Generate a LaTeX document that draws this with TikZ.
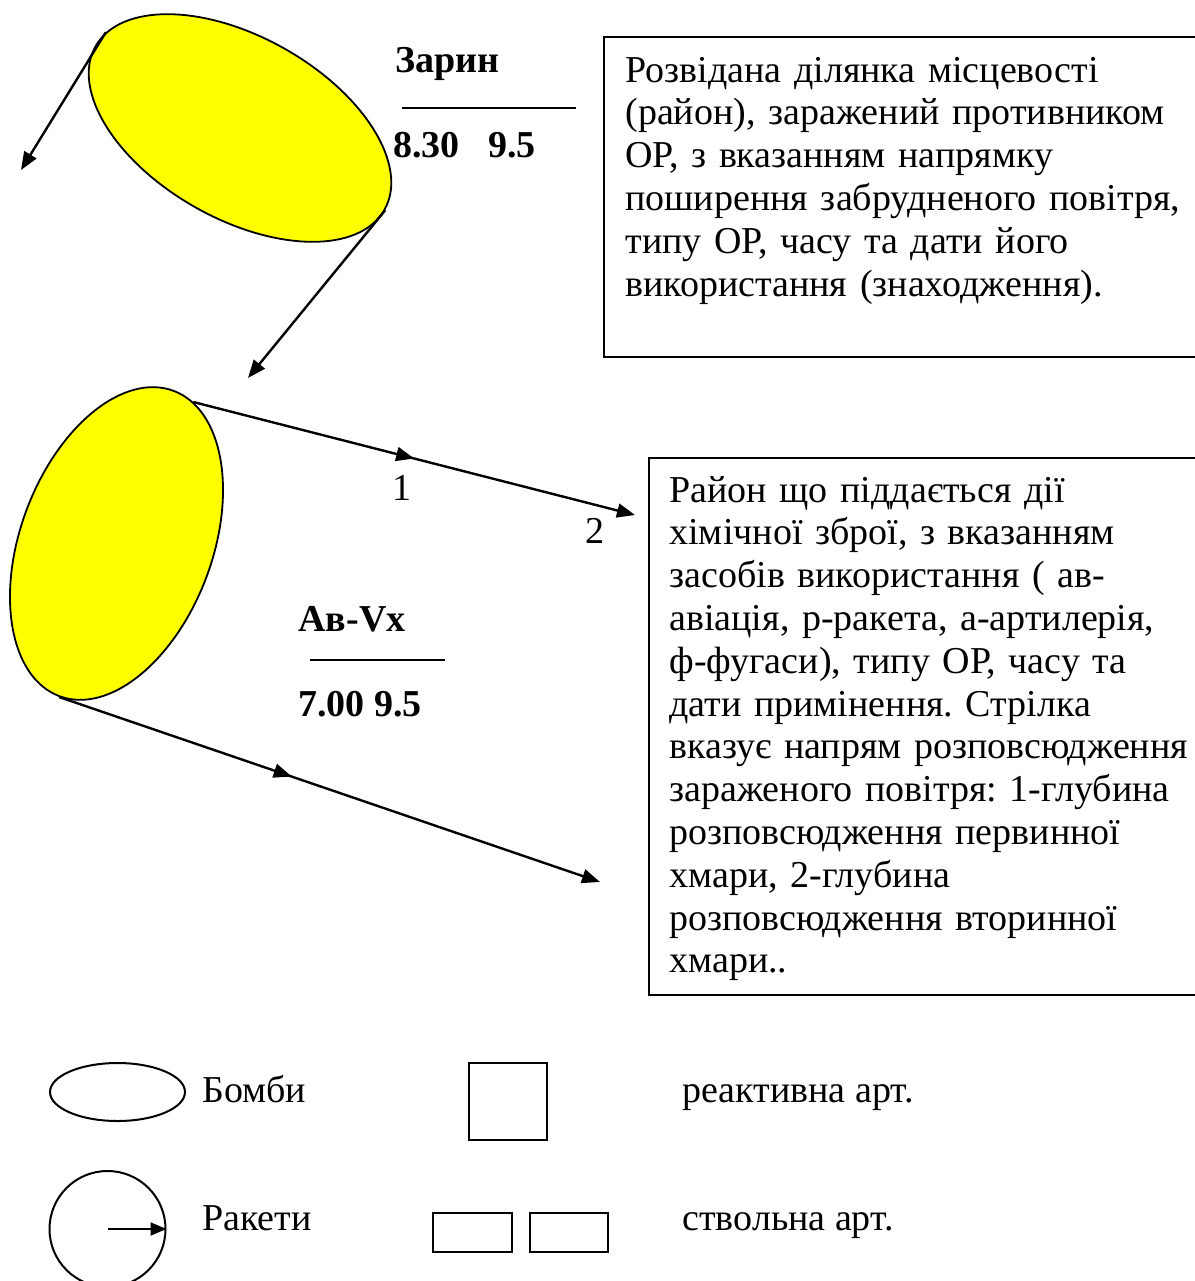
\documentclass[tikz,border=0pt]{standalone}
\usepackage{fontspec}
\setmainfont{Liberation Serif}
\usetikzlibrary{shapes.geometric, arrows.meta, decorations.markings}
\definecolor{zonefill}{RGB}{255,255,0}
\frenchspacing

\begin{document}
\begin{tikzpicture}[x=1pt, y=-1pt,
        every node/.style={font=\fontsize{19}{21.4}\selectfont},
        zone/.style={draw, line width=0.9pt, ellipse, fill=zonefill, inner sep=0pt},
        sign/.style={draw, line width=1pt, inner sep=0pt},
        txt/.style={inner sep=0pt, anchor=base west},
        tag/.style={txt, font=\fontsize{19}{21.4}\selectfont\bfseries},
        desc/.style={txt, text width=280pt, align=left},
        arrow/.style={-{Triangle[length=9pt, width=7pt]}, line width=1.2pt},
        flow/.style={arrow, postaction={decorate}, decoration={markings,
                mark=at position #1 with {\arrow{Triangle[length=9pt, width=7pt]}}}},
        flow/.default=0.5,
    ]

    \useasboundingbox (0,0) rectangle (597.5,640.5);

    % contaminated areas
    \node[zone, minimum width=166pt, minimum height=91pt, rotate=-29.5] (sarin) at (120,64) {};
    \node[zone, minimum width=96pt, minimum height=163pt, rotate=-20.5] (avvx) at (58.25,271.75) {};

    \coordinate (sarin_wind) at (10.5,85);
    \coordinate (sarin_next) at (124,189);
    \coordinate (primary) at (317.5,257.5);
    \coordinate (drift) at (300,441);

    \draw[arrow] (sarin.174) -- (sarin_wind);
    \draw[arrow] (sarin.east) -- (sarin_next);
    \draw[flow] (avvx.82) -- (primary);
    \draw[flow=0.43] (avvx.south) -- (drift);

    % agent, time and date
    \node[tag] (sarin_name) at (197.5,36) {Зарин};
    \draw[line width=0.8pt] (201,54) -- (288,54);
    \node[tag] (sarin_time) at (196.5,78.5) {8.30\ \ \ 9.5};
    \node[tag] (avvx_name) at (149,315.5) {Ав-Vx};
    \draw[line width=0.8pt] (155,330) -- (222.5,330);
    \node[tag] (avvx_time) at (149,358) {7.00 9.5};

    \node[inner sep=0pt, anchor=base] (depth_one) at (201,250) {1};
    \node[inner sep=0pt, anchor=base] (depth_two) at (297.5,271.5) {2};

    % explanations
    \draw[line width=1pt] (302,18.5) rectangle (607,178.5);
    \node[desc] (desc_sarin) at (312.5,41) {Розвідана ділянка місцевості\\
        (район), заражений противником\\
        ОР, з вказанням напрямку\\
        поширення забрудненого повітря,\\
        типу ОР, часу та дати його\\
        використання (знаходження).};

    \draw[line width=1pt] (324.5,229) rectangle (607,497.5);
    \node[desc] (desc_avvx) at (334.5,251) {Район що піддається дії\\
        хімічної зброї, з вказанням\\
        засобів використання ( ав-\\
        авіація, р-ракета, а-артилерія,\\
        ф-фугаси), типу ОР, часу та\\
        дати примінення. Стрілка\\
        вказує напрям розповсюдження\\
        зараженого повітря: 1-глубина\\
        розповсюдження первинної\\
        хмари, 2-глубина\\
        розповсюдження вторинної\\
        хмари..};

    % legend
    \node[sign, ellipse, minimum width=67.5pt, minimum height=29pt] (bombs) at (58.75,546) {};
    \node[txt] (bombs_text) at (101,551) {Бомби};
    \node[sign, minimum width=39pt, minimum height=38.5pt] (jet) at (254,550.75) {};
    \node[txt] (jet_text) at (341,551) {реактивна арт.};

    \node[sign, circle, minimum size=58pt] (rockets) at (53.75,614.5) {};
    \draw[-{Triangle[length=8pt, width=6.5pt]}, line width=1pt] (rockets.center) -- (rockets.east);
    \node[txt] (rockets_text) at (101,615) {Ракети};
    \node[sign, minimum width=39.5pt, minimum height=19.5pt] (barrel_a) at (236.25,616.25) {};
    \node[sign, minimum width=39pt, minimum height=19.5pt] (barrel_b) at (284.5,616.25) {};
    \node[txt] (barrel_text) at (341,615) {ствольна арт.};
\end{tikzpicture}
\end{document}
